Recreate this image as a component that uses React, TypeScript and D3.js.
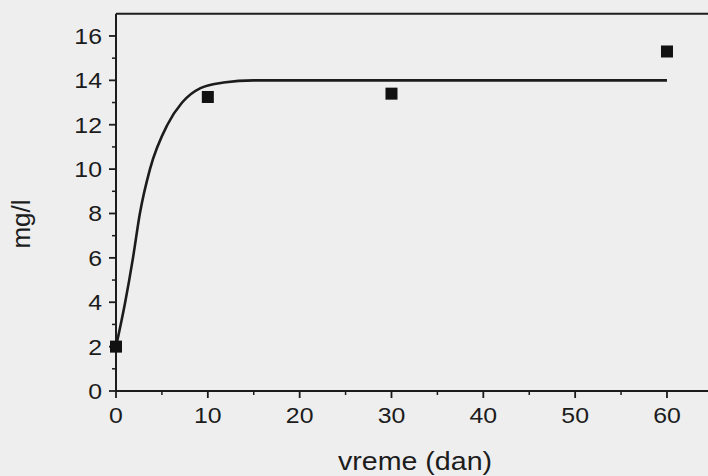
import React from "react";
import * as d3 from "d3";

const measDays = [0, 10, 30, 60];
const measValues = [2.0, 13.25, 13.4, 15.3];

const fitDays = [0, 1.0, 1.85, 2.6, 3.7, 5.6, 7.2, 9.2, 11.7, 15, 20, 30, 40, 50, 60];
const fitValues = [2.0, 4.0, 6.0, 8.0, 10.0, 12.0, 13.0, 13.65, 13.9, 14.0, 14.0, 14.0, 14.0, 14.0, 14.0];

const xTicks = [0, 10, 20, 30, 40, 50, 60];
const xMinor = [5, 15, 25, 35, 45, 55, 65];
const yTicks = [0, 2, 4, 6, 8, 10, 12, 14, 16];
const yMinor = [1, 3, 5, 7, 9, 11, 13, 15];

const xLabel = "vreme (dan)";
const yLabel = "mg/l";

export default function App() {
  const W = 708, H = 476;
  const x = d3.scaleLinear().domain([0, 66]).range([116, 116 + 66 * 9.183]);
  const y = d3.scaleLinear().domain([0, 17]).range([391, 391 - 17 * 22.19]);
  const line = d3
    .line<number>()
    .x((_, i) => x(fitDays[i]))
    .y((d) => y(d))
    .curve(d3.curveMonotoneX);
  const ink = "#1c1c1c";
  const x0 = x(0), y0 = y(0), yTop = y(17), xEnd = x(66);
  const font = "'Liberation Sans', Arial, sans-serif";
  return (
    <svg width={W} height={H} style={{ position: "absolute", left: 0, top: 0, display: "block" }}>
      <rect x={0} y={0} width={W} height={H} fill="#eeeeee" />
      {/* frame */}
      <line x1={x0} x2={xEnd} y1={yTop} y2={yTop} stroke={ink} strokeWidth={2} />
      <line x1={x0} x2={x0} y1={yTop} y2={y0} stroke={ink} strokeWidth={2} />
      <line x1={x0} x2={xEnd} y1={y0} y2={y0} stroke={ink} strokeWidth={2} />
      {/* y ticks */}
      {yTicks.map((v) => (
        <g key={"yt" + v}>
          <line x1={x0 - 7} x2={x0} y1={y(v)} y2={y(v)} stroke={ink} strokeWidth={1.8} />
          <text
            transform={`translate(${x0 - 14},${y(v) + 8}) scale(1.13,1)`}
            textAnchor="end"
            fontFamily={font}
            fontSize={22}
            fill={ink}
          >
            {v}
          </text>
        </g>
      ))}
      {yMinor.map((v) => (
        <line key={"ym" + v} x1={x0 - 4} x2={x0} y1={y(v)} y2={y(v)} stroke={ink} strokeWidth={1.5} />
      ))}
      {/* x ticks */}
      {xTicks.map((v) => (
        <g key={"xt" + v}>
          <line x1={x(v)} x2={x(v)} y1={y0} y2={y0 + 7} stroke={ink} strokeWidth={1.8} />
          <text
            transform={`translate(${x(v)},${y0 + 32}) scale(1.13,1)`}
            textAnchor="middle"
            fontFamily={font}
            fontSize={22}
            fill={ink}
          >
            {v}
          </text>
        </g>
      ))}
      {xMinor.map((v) => (
        <line key={"xm" + v} x1={x(v)} x2={x(v)} y1={y0} y2={y0 + 4} stroke={ink} strokeWidth={1.5} />
      ))}
      {/* axis labels */}
      <text
        transform={`translate(415,470) scale(1.1,1)`}
        textAnchor="middle"
        fontFamily={font}
        fontSize={26}
        fill={ink}
      >
        {xLabel}
      </text>
      <text
        transform={`translate(30,224) rotate(-90)`}
        textAnchor="middle"
        fontFamily={font}
        fontSize={26}
        fill={ink}
      >
        {yLabel}
      </text>
      {/* fitted curve */}
      <path d={line(fitValues) || ""} fill="none" stroke={ink} strokeWidth={2.6} />
      {/* measurements */}
      {measDays.map((d, i) => (
        <rect key={"m" + i} x={x(d) - 6} y={y(measValues[i]) - 6} width={12} height={12} fill="#111" />
      ))}
    </svg>
  );
}
